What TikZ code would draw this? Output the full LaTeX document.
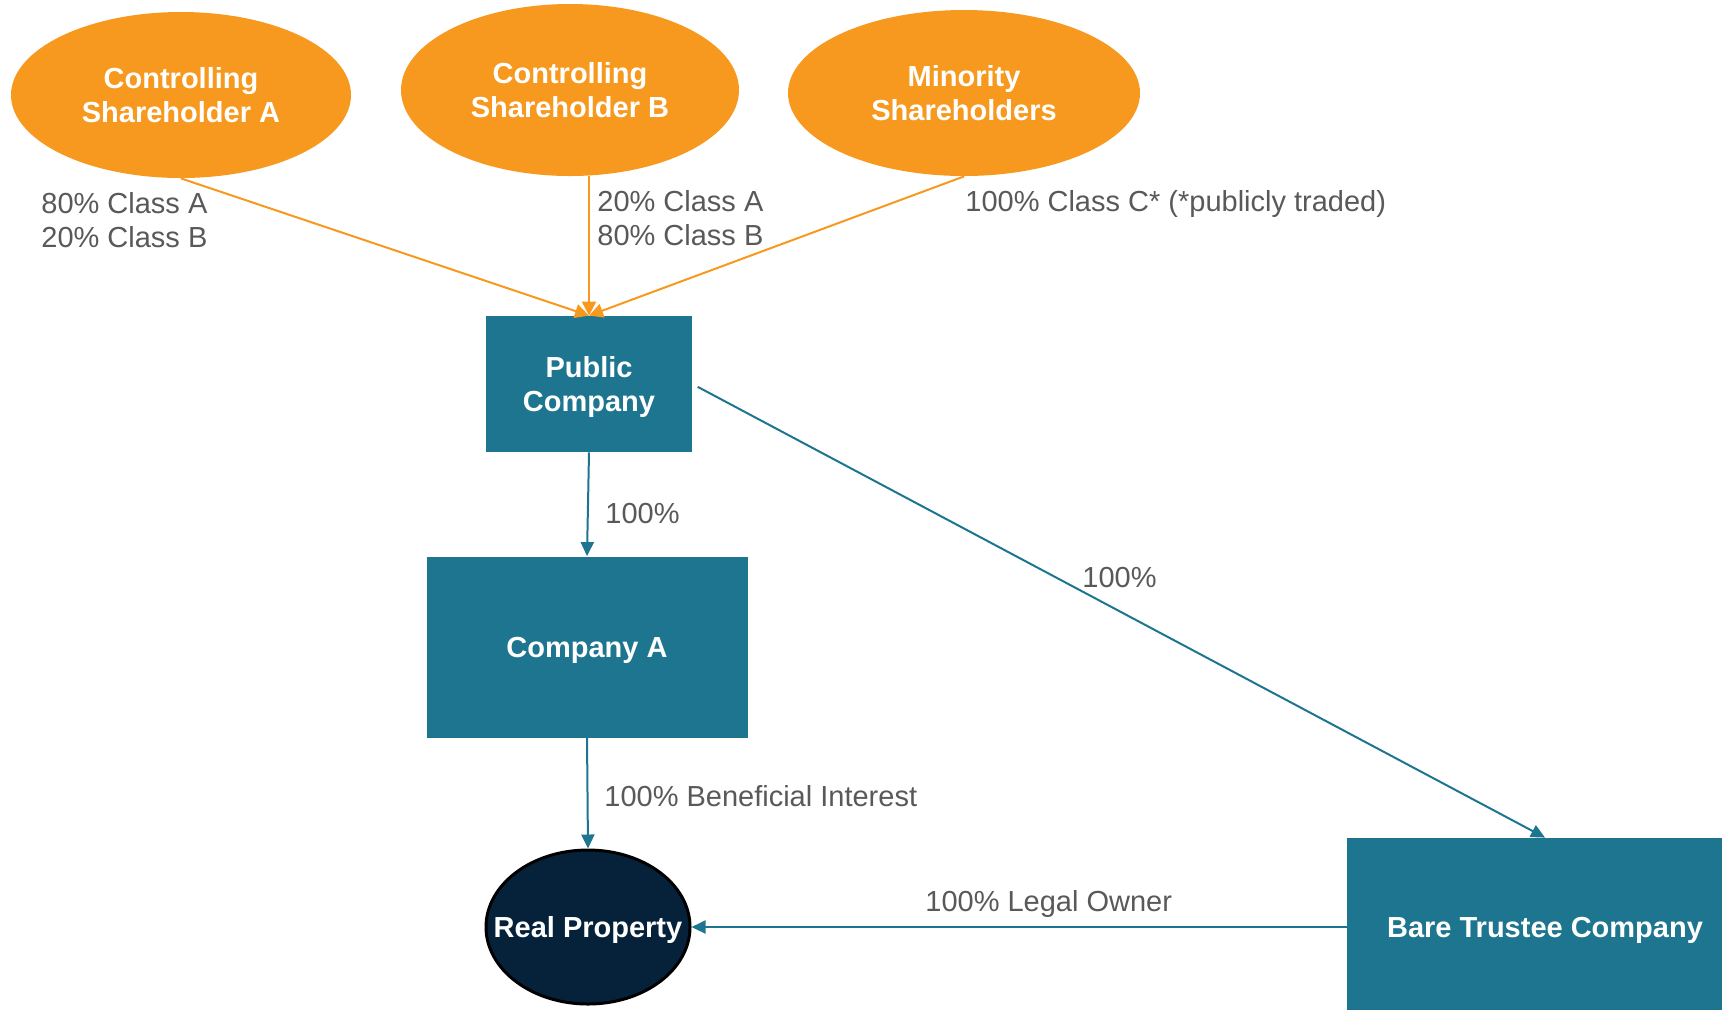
\documentclass[tikz,border=0pt]{standalone}
\usepackage{fontspec}
\setmainfont{Liberation Sans}
\usetikzlibrary{shapes.geometric, arrows.meta}

\definecolor{holderorange}{HTML}{F7991E}
\definecolor{corpteal}{HTML}{1E758F}
\definecolor{propnavy}{HTML}{05223A}
\definecolor{lblgray}{HTML}{595959}

\tikzset{
    holder/.style={ellipse, fill=holderorange, text=white, inner sep=0pt, align=center,
        font=\bfseries\fontsize{14.5}{17}\selectfont},
    firm/.style={rectangle, fill=corpteal, text=white, inner sep=0pt, align=center, text depth=0pt,
        font=\bfseries\fontsize{14.5}{17}\selectfont},
    asset/.style={ellipse, fill=propnavy, draw=black, line width=1.5pt, text=white, inner sep=0pt,
        text depth=0pt, font=\bfseries\fontsize{14.5}{17}\selectfont},
    lbl/.style={anchor=west, inner sep=0pt, text=lblgray, align=left,
        font=\fontsize{14.5}{17}\selectfont},
    holds/.style={draw=holderorange, line width=1pt, -{Triangle[width=7pt,length=7pt]}},
    owns/.style={draw=corpteal, line width=1pt, -{Triangle[width=6.5pt,length=7pt]}}
}

\begin{document}
\begin{tikzpicture}[x=0.5pt, y=-0.5pt]
    \useasboundingbox (0,0) rectangle (1722,1009);

    % shareholders
    \node[holder, minimum width=170pt, minimum height=83pt] (shA) at (181,95) {Controlling\\Shareholder A};
    \node[holder, minimum width=169pt, minimum height=86pt] (shB) at (570,90) {Controlling\\Shareholder B};
    \node[holder, minimum width=176pt, minimum height=83pt] (minor) at (964,93) {Minority\\Shareholders};

    % companies
    \node[firm, minimum width=103pt, minimum height=68pt] (pubco) at (589,384) {Public\\Company};
    \node[firm, minimum width=160.5pt, minimum height=90.5pt] (coA) at (587,647) {Company A};
    \node[firm, minimum width=198pt, minimum height=89pt] (bare) at (1545,927) {Bare Trustee Company};
    \node[asset, minimum width=102pt, minimum height=77pt] (prop) at (588,927) {\makebox[0pt]{Real Property}};

    % ownership
    \draw[holds] (shA.south) -- (pubco.north);
    \draw[holds] (shB.south -| pubco.north) -- (pubco.north);
    \draw[holds] (minor.south) -- (pubco.north);
    \draw[owns] (pubco.south) -- (coA.north);
    \draw[owns, shorten <=3pt] (pubco.east) -- (bare.north);
    \draw[owns] (coA.south) -- (prop.north);
    \draw[owns] (bare.west) -- (prop.east);

    \node[lbl] at (41,220) {80\% Class A\\20\% Class B};
    \node[lbl] at (597,218) {20\% Class A\\80\% Class B};
    \node[lbl] at (965,204) {100\% Class C* (*publicly traded)};
    \node[lbl] at (605,513) {100\%};
    \node[lbl] at (1082,577) {100\%};
    \node[lbl] at (604,796) {100\% Beneficial Interest};
    \node[lbl] at (925,904) {100\% Legal Owner};
\end{tikzpicture}
\end{document}
